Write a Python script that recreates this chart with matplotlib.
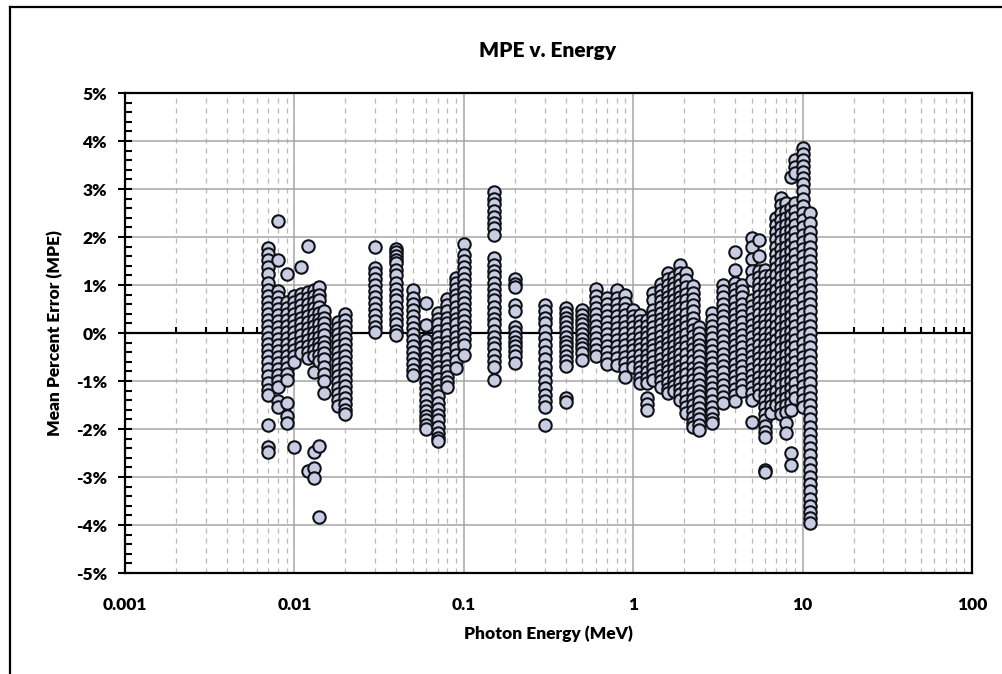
import matplotlib
matplotlib.use('Agg')
import matplotlib.pyplot as plt
import numpy as np
from matplotlib.ticker import MultipleLocator, FixedLocator, LogLocator, NullFormatter, FuncFormatter
from matplotlib.lines import Line2D

# photon energies (MeV) and mean percent error (%), one list per energy
energies_low = [0.007, 0.008, 0.009, 0.01, 0.011, 0.012, 0.013, 0.014, 0.015, 0.018, 0.02]
mpe_low = [
  [1.78, 1.65, 1.52, 1.38, 1.22, 1.05, 0.9, 0.78, 0.65, 0.52, 0.4, 0.28, 0.15, 0.03, -0.1, -0.22,
   -0.35, -0.48, -0.6, -0.75, -0.9, -1.05, -1.18, -1.3, -1.92, -2.38, -2.48],
  [2.33, 1.52, 0.88, 0.75, 0.62, 0.5, 0.38, 0.25, 0.12, 0.0, -0.12, -0.25, -0.38, -0.5, -0.62,
   -0.75, -0.88, -1.0, -1.12, -1.42, -1.55],
  [1.22, 0.65, 0.52, 0.4, 0.28, 0.15, 0.02, -0.1, -0.22, -0.35, -0.48, -0.6, -0.72, -0.85, -0.98,
   -1.45, -1.72, -1.88],
  [0.78, 0.65, 0.52, 0.4, 0.28, 0.15, 0.02, -0.1, -0.22, -0.35, -0.48, -0.6, -2.37],
  [1.37, 0.82, 0.7, 0.58, 0.45, 0.32, 0.2, 0.08, -0.05, -0.18, -0.3, -0.42],
  [1.82, 0.85, 0.72, 0.6, 0.48, 0.35, 0.22, 0.1, -0.02, -0.15, -0.28, -0.4, -0.52, -2.88],
  [0.9, 0.78, 0.65, 0.52, 0.4, 0.28, 0.15, 0.02, -0.1, -0.22, -0.35, -0.48, -0.82, -2.47, -2.82, -3.02],
  [0.95, 0.8, 0.68, 0.55, 0.42, 0.3, 0.18, 0.05, -0.08, -0.2, -0.32, -0.45, -0.58, -2.36, -3.83],
  [0.45, 0.32, 0.2, 0.08, -0.05, -0.18, -0.3, -0.42, -0.55, -0.7, -0.85, -1.0, -1.25],
  [0.22, 0.1, -0.02, -0.15, -0.28, -0.4, -0.52, -0.65, -0.78, -0.9, -1.02, -1.15, -1.28, -1.4, -1.52],
  [0.4, 0.28, 0.15, 0.02, -0.1, -0.22, -0.35, -0.48, -0.6, -0.72, -0.85, -0.98, -1.1, -1.22, -1.35,
   -1.48, -1.6, -1.68],
]

energies_mid = [0.03, 0.04, 0.05, 0.06, 0.07, 0.08, 0.09, 0.1, 0.15, 0.2, 0.3, 0.4, 0.5, 0.6, 0.7]
mpe_mid = [
  [1.8, 1.35, 1.25, 1.12, 1.0, 0.88, 0.75, 0.62, 0.5, 0.38, 0.25, 0.12, 0.02],
  [1.75, 1.68, 1.6, 1.52, 1.45, 1.32, 1.2, 1.05, 0.92, 0.8, 0.68, 0.55, 0.42, 0.3, 0.18, 0.05, -0.05],
  [0.9, 0.72, 0.6, 0.48, 0.35, 0.22, 0.1, -0.02, -0.15, -0.28, -0.4, -0.52, -0.65, -0.78, -0.88],
  [0.62, 0.17, -0.15, -0.28, -0.4, -0.52, -0.65, -0.78, -0.9, -1.02, -1.15, -1.28, -1.4, -1.52,
   -1.62, -1.72, -1.82, -1.92, -2.0],
  [0.42, 0.3, 0.18, 0.05, -0.08, -0.2, -0.32, -0.45, -0.58, -0.7, -0.82, -0.95, -1.08, -1.2, -1.32,
   -1.45, -1.58, -1.7, -1.82, -1.95, -2.08, -2.18, -2.26],
  [0.7, 0.58, 0.45, 0.32, 0.2, 0.08, -0.05, -0.18, -0.3, -0.42, -0.55, -0.68, -0.8, -0.92, -1.02, -1.12],
  [1.15, 1.05, 0.92, 0.8, 0.68, 0.55, 0.42, 0.3, 0.18, 0.05, -0.08, -0.2, -0.32, -0.45, -0.58, -0.72],
  [1.85, 1.62, 1.5, 1.38, 1.25, 1.12, 1.0, 0.88, 0.75, 0.62, 0.5, 0.38, 0.25, 0.12, 0.0, -0.12,
   -0.25, -0.45],
  [2.94, 2.8, 2.68, 2.55, 2.42, 2.3, 2.18, 2.05, 1.56, 1.42, 1.3, 1.18, 1.05, 0.92, 0.8, 0.68, 0.55,
   0.42, 0.3, 0.18, 0.05, -0.08, -0.2, -0.32, -0.45, -0.58, -0.7, -0.98],
  [1.12, 1.02, 0.95, 0.58, 0.45, 0.12, 0.02, -0.08, -0.18, -0.28, -0.38, -0.48, -0.62],
  [0.58, 0.45, 0.32, 0.2, 0.05, -0.1, -0.25, -0.4, -0.55, -0.7, -0.85, -1.0, -1.15, -1.3, -1.42,
   -1.55, -1.92],
  [0.52, 0.42, 0.32, 0.22, 0.12, 0.02, -0.08, -0.18, -0.28, -0.38, -0.48, -0.58, -0.68, -1.35, -1.44],
  [0.48, 0.38, 0.28, 0.18, 0.08, -0.02, -0.12, -0.22, -0.32, -0.42, -0.56],
  [0.92, 0.78, 0.65, 0.52, 0.4, 0.28, 0.15, 0.02, -0.1, -0.22, -0.35, -0.48],
  [0.72, 0.6, 0.48, 0.35, 0.22, 0.1, -0.02, -0.15, -0.28, -0.4, -0.52, -0.65],
]

energies_high = [0.8, 0.9, 1.0, 1.1, 1.2, 1.3, 1.45, 1.6, 1.75, 1.9, 2.05, 2.25, 2.45, 2.9]
mpe_high = [
  [0.9, 0.72, 0.6, 0.48, 0.35, 0.22, 0.1, -0.02, -0.15, -0.28, -0.4, -0.52, -0.67],
  [0.79, 0.62, 0.5, 0.38, 0.25, 0.12, 0.0, -0.12, -0.25, -0.38, -0.5, -0.62, -0.75, -0.91],
  [0.48, 0.36, 0.24, 0.12, 0.0, -0.12, -0.24, -0.36, -0.48, -0.6, -0.7],
  [0.38, 0.26, 0.14, 0.02, -0.1, -0.22, -0.34, -0.46, -0.58, -0.7, -0.82, -0.94, -1.05],
  [0.27, 0.15, 0.03, -0.09, -0.21, -0.33, -0.45, -0.57, -0.69, -0.81, -0.93, -1.05, -1.36, -1.48, -1.6],
  [0.83, 0.69, 0.48, 0.36, 0.24, 0.12, 0.0, -0.12, -0.24, -0.36, -0.48, -0.6, -0.72, -0.85, -0.98],
  [1.03, 0.9, 0.78, 0.66, 0.54, 0.42, 0.3, 0.18, 0.06, -0.06, -0.18, -0.3, -0.42, -0.54, -0.66,
   -0.78, -0.9, -1.0, -1.12],
  [1.24, 1.12, 1.0, 0.88, 0.76, 0.64, 0.52, 0.4, 0.28, 0.16, 0.04, -0.08, -0.2, -0.32, -0.44, -0.56,
   -0.68, -0.8, -0.92, -1.04, -1.16, -1.26],
  [1.17, 1.05, 0.93, 0.81, 0.69, 0.57, 0.45, 0.33, 0.21, 0.09, -0.03, -0.15, -0.27, -0.39, -0.51,
   -0.63, -0.75, -0.87, -0.99, -1.11, -1.2],
  [1.42, 1.24, 1.12, 1.0, 0.88, 0.76, 0.64, 0.52, 0.4, 0.28, 0.16, 0.04, -0.08, -0.2, -0.32, -0.44,
   -0.56, -0.68, -0.8, -0.92, -1.04, -1.16, -1.28, -1.4],
  [1.24, 1.1, 0.96, 0.82, 0.68, 0.54, 0.4, 0.26, 0.12, -0.02, -0.16, -0.3, -0.44, -0.58, -0.72,
   -0.86, -1.0, -1.14, -1.28, -1.42, -1.55, -1.67],
  [0.97, 0.84, 0.71, 0.58, 0.45, 0.32, 0.19, 0.06, -0.07, -0.2, -0.33, -0.46, -0.59, -0.72, -0.85,
   -0.98, -1.11, -1.24, -1.37, -1.5, -1.63, -1.76, -1.88, -1.95],
  [0.13, 0.0, -0.12, -0.24, -0.36, -0.48, -0.6, -0.72, -0.84, -0.96, -1.08, -1.2, -1.32, -1.44,
   -1.56, -1.68, -1.8, -1.92, -2.02],
  [0.41, 0.28, 0.15, 0.02, -0.11, -0.24, -0.37, -0.5, -0.63, -0.76, -0.89, -1.02, -1.15, -1.28,
   -1.41, -1.54, -1.67, -1.8, -1.88],
]

energies_top = [3.4, 4.0, 4.4, 5.0, 5.5, 6.0, 6.5, 7.0, 7.5, 8.0, 8.5, 9.0, 10.0, 11.0]
mpe_top = [
  [1.0, 0.87, 0.74, 0.61, 0.48, 0.35, 0.22, 0.09, -0.04, -0.17, -0.3, -0.43, -0.56, -0.69, -0.82,
   -0.95, -1.08, -1.21, -1.34, -1.46],
  [1.69, 1.31, 1.05, 0.92, 0.79, 0.66, 0.53, 0.4, 0.27, 0.14, 0.01, -0.12, -0.25, -0.38, -0.51,
   -0.64, -0.77, -0.9, -1.03, -1.16, -1.29, -1.42],
  [1.0, 0.87, 0.74, 0.61, 0.48, 0.35, 0.22, 0.09, -0.04, -0.17, -0.3, -0.43, -0.56, -0.69, -0.82,
   -0.95, -1.08, -1.2],
  [1.98, 1.8, 1.55, 1.3, 1.1, 0.69, 0.56, 0.43, 0.3, 0.17, 0.04, -0.09, -0.22, -0.35, -0.48, -0.61,
   -0.74, -0.87, -1.0, -1.13, -1.26, -1.4, -1.85],
  [1.94, 1.6, 1.3, 1.17, 1.04, 0.91, 0.78, 0.65, 0.52, 0.39, 0.26, 0.13, 0.0, -0.13, -0.26, -0.39,
   -0.52, -0.65, -0.78, -0.91, -1.04, -1.17, -1.3],
  [1.31, 1.18, 1.05, 0.92, 0.79, 0.66, 0.53, 0.4, 0.27, 0.14, 0.01, -0.12, -0.25, -0.38, -0.51,
   -0.64, -0.77, -0.9, -1.03, -1.16, -1.29, -1.42, -1.55, -1.68, -1.81, -1.94, -2.06, -2.17, -2.85, -2.9],
  [1.2, 1.07, 0.94, 0.81, 0.68, 0.55, 0.42, 0.29, 0.16, 0.03, -0.1, -0.23, -0.36, -0.49, -0.62,
   -0.75, -0.88, -1.01, -1.14, -1.27, -1.4, -1.53, -1.66],
  [2.4, 2.25, 2.1, 1.95, 1.8, 1.65, 1.5, 1.35, 1.2, 1.05, 0.9, 0.75, 0.6, 0.45, 0.3, 0.15, 0.0,
   -0.15, -0.3, -0.45, -0.6, -0.75, -0.9, -1.05, -1.2, -1.35, -1.5],
  [2.81, 2.66, 2.51, 2.36, 2.21, 2.06, 1.91, 1.76, 1.61, 1.46, 1.31, 1.16, 1.01, 0.86, 0.71, 0.56,
   0.41, 0.26, 0.11, -0.04, -0.19, -0.34, -0.49, -0.64, -0.79, -0.94, -1.09, -1.24, -1.39, -1.54, -1.68],
  [2.7, 2.55, 2.4, 2.25, 2.1, 1.95, 1.8, 1.65, 1.5, 1.35, 1.2, 1.05, 0.9, 0.75, 0.6, 0.45, 0.3, 0.15,
   0.0, -0.15, -0.3, -0.45, -0.6, -0.75, -0.9, -1.05, -1.2, -1.35, -1.5, -1.65, -1.88, -2.08],
  [3.25, 2.6, 2.45, 2.3, 2.15, 2.0, 1.85, 1.7, 1.55, 1.4, 1.25, 1.1, 0.95, 0.8, 0.65, 0.5, 0.35, 0.2,
   0.05, -0.1, -0.25, -0.4, -0.55, -0.7, -0.85, -1.0, -1.15, -1.3, -1.45, -1.6, -2.5, -2.75],
  [3.6, 3.45, 3.33, 2.7, 2.55, 2.4, 2.25, 2.1, 1.95, 1.8, 1.65, 1.5, 1.35, 1.2, 1.05, 0.9, 0.75, 0.6,
   0.45, 0.3, 0.15, 0.0, -0.15, -0.3, -0.45, -0.6, -0.75, -0.9, -1.05, -1.2, -1.35],
  [3.85, 3.72, 3.6, 3.48, 3.36, 3.22, 3.1, 2.95, 2.8, 2.65, 2.5, 2.35, 2.2, 2.05, 1.9, 1.75, 1.6,
   1.45, 1.3, 1.15, 1.0, 0.85, 0.7, 0.55, 0.4, 0.25, 0.1, -0.05, -0.2, -0.35, -0.5, -0.65, -0.8,
   -0.95, -1.1, -1.25, -1.4, -1.55],
  [2.5, 2.3, 2.1, 1.95, 1.8, 1.65, 1.5, 1.35, 1.2, 1.05, 0.9, 0.75, 0.6, 0.45, 0.3, 0.15, 0.0, -0.15,
   -0.3, -0.45, -0.6, -0.75, -0.9, -1.05, -1.2, -1.35, -1.5, -1.65, -1.8, -1.95, -2.1, -2.25, -2.4,
   -2.55, -2.7, -2.85, -3.0, -3.15, -3.3, -3.45, -3.6, -3.72, -3.85, -3.96],
]

x_ticks = [0.001, 0.01, 0.1, 1, 10, 100]
x_tick_labels = ['0.001', '0.01', '0.1', '1', '10', '100']

FACE = '#C9CDE2'
EDGE = '#101018'

plt.rcParams['font.family'] = 'Lato'
plt.rcParams['font.weight'] = 'heavy'
plt.rcParams['axes.unicode_minus'] = False

fig = plt.figure(figsize=(10.02, 6.74), dpi=100)
ax = fig.add_axes([125 / 1002, 1 - 573 / 674, (972 - 125) / 1002, (573 - 93) / 674])

xs, ys = [], []
for group_e, group_v in [(energies_low, mpe_low), (energies_mid, mpe_mid),
                         (energies_high, mpe_high), (energies_top, mpe_top)]:
  for e, vals in zip(group_e, group_v):
    xs += [e] * len(vals)
    ys += vals

ax.scatter(xs, ys, s=80, facecolor=FACE, edgecolor=EDGE, linewidth=1.5, zorder=3)

ax.set_xscale('log')
ax.set_xlim(0.001, 100)
ax.set_ylim(-5, 5)

ax.xaxis.set_major_locator(FixedLocator(x_ticks))
ax.set_xticklabels(x_tick_labels)
ax.xaxis.set_minor_locator(LogLocator(base=10, subs=np.arange(2, 10)))
ax.xaxis.set_minor_formatter(NullFormatter())
ax.yaxis.set_major_locator(MultipleLocator(1))
ax.yaxis.set_minor_locator(MultipleLocator(0.2))
ax.yaxis.set_major_formatter(FuncFormatter(lambda v, p: f'{v:.0f}%'))

ax.grid(which='major', color='#A6A6A6', linewidth=1.1, zorder=0)
ax.grid(which='minor', axis='x', color='#B8B8B8', linewidth=0.9, linestyle=(0, (4, 4)))
ax.grid(which='minor', axis='y', visible=False)
ax.set_axisbelow(True)

for sp in ax.spines.values():
  sp.set_linewidth(1.6)
  sp.set_color('black')

ax.tick_params(axis='x', which='both', length=0, pad=17, labelsize=12.5)
ax.tick_params(axis='y', which='major', direction='inout', length=10, width=1.5, pad=8, labelsize=12.5)
ax.tick_params(axis='y', which='minor', direction='in', length=5, width=1.5)

# horizontal axis crossing at 0%, with small tick marks pointing up
ax.axhline(0, color='black', linewidth=1.6, zorder=2)
zero_ticks = [m * 10.0 ** k for k in range(-3, 2) for m in range(2, 10)]
ax.plot(zero_ticks, [0] * len(zero_ticks), linestyle='none', marker=2, markersize=4,
        markeredgewidth=1.5, color='black', zorder=2)

fig.text(548 / 1002, 1 - 50 / 674, 'MPE v. Energy', ha='center', va='center', fontsize=15)
fig.text(548 / 1002, 1 - 634 / 674, 'Photon Energy (MeV)', ha='center', va='center', fontsize=12.5)
fig.text(55 / 1002, 1 - 333 / 674, 'Mean Percent Error (MPE)', ha='center', va='center',
         rotation=90, fontsize=12.5)

# chart border
fig.add_artist(Line2D([10 / 1002, 10 / 1002], [0, 1 - 7 / 674], color='black', linewidth=1.6,
                      transform=fig.transFigure))
fig.add_artist(Line2D([10 / 1002, 1], [1 - 7 / 674, 1 - 7 / 674], color='black', linewidth=1.6,
                      transform=fig.transFigure))

plt.savefig('out.png', dpi=100)
